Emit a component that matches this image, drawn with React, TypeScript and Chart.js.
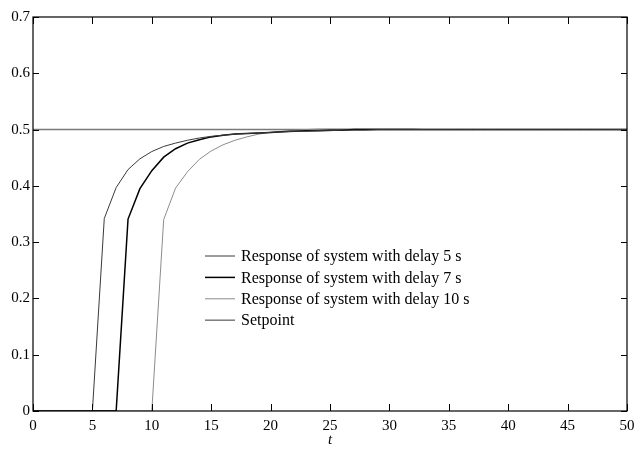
import React, { useEffect, useRef } from "react";
import { Chart, registerables } from "chart.js";

Chart.register(...registerables);

// time axis (s)
const timeSteps = [
  0, 1, 2, 3, 4, 5, 6, 7, 8, 9, 10, 11, 12, 13, 14, 15, 16, 17, 18, 19, 20,
  21, 22, 23, 24, 25, 26, 27, 28, 29, 30, 31, 32, 33, 34, 35, 36, 37, 38, 39, 40,
  41, 42, 43, 44, 45, 46, 47, 48, 49, 50,
];

const responseDelay5 = [
  0, 0, 0, 0, 0, 0, 0.342, 0.397, 0.429, 0.448, 0.461, 0.47, 0.476, 0.481, 0.485,
  0.488, 0.49, 0.492, 0.493, 0.494, 0.495, 0.496, 0.497, 0.497, 0.498, 0.498,
  0.499, 0.499, 0.499, 0.5, 0.5, 0.5, 0.5, 0.5, 0.5, 0.5, 0.5, 0.5, 0.5, 0.5, 0.5,
  0.5, 0.5, 0.5, 0.5, 0.5, 0.5, 0.5, 0.5, 0.5, 0.5,
];

const responseDelay7 = [
  0, 0, 0, 0, 0, 0, 0, 0, 0.341, 0.395, 0.427, 0.451, 0.466, 0.476, 0.482, 0.487,
  0.49, 0.492, 0.493, 0.494, 0.495, 0.496, 0.497, 0.498, 0.498, 0.499, 0.499, 0.5,
  0.5, 0.5, 0.5, 0.5, 0.5, 0.5, 0.5, 0.5, 0.5, 0.5, 0.5, 0.5, 0.5, 0.5, 0.5, 0.5,
  0.5, 0.5, 0.5, 0.5, 0.5, 0.5, 0.5,
];

const responseDelay10 = [
  0, 0, 0, 0, 0, 0, 0, 0, 0, 0, 0, 0.34, 0.396, 0.425, 0.447, 0.462, 0.473, 0.481,
  0.487, 0.492, 0.495, 0.497, 0.499, 0.5, 0.501, 0.501, 0.501, 0.501, 0.501, 0.501,
  0.501, 0.501, 0.501, 0.5, 0.5, 0.5, 0.5, 0.5, 0.5, 0.5, 0.5, 0.5, 0.5, 0.5, 0.5,
  0.5, 0.5, 0.5, 0.5, 0.5, 0.5,
];

const setpointTimes = [0, 50];
const setpointValues = [0.5, 0.5];

const seriesLabels = [
  "Response of system with delay 5 s",
  "Response of system with delay 7 s",
  "Response of system with delay 10 s",
  "Setpoint",
];

const xTickStep = 5;
const yTickStep = 0.1;

const FONT = "'Liberation Serif', 'Times New Roman', serif";

const toPoints = (xs: number[], ys: number[]) => xs.map((x, i) => ({ x, y: ys[i] }));

const framePlugin = {
  id: "frameTicks",
  afterDatasetsDraw(chart: any) {
    const { ctx, chartArea, scales } = chart;
    const { left, right, top, bottom } = chartArea;
    ctx.save();
    ctx.strokeStyle = "#000";
    ctx.lineWidth = 1.2;
    ctx.strokeRect(left, top, right - left, bottom - top);
    ctx.lineWidth = 1;
    const xs = scales.x;
    const ys = scales.y;
    const xl = 7;
    const yl = 6;
    ctx.beginPath();
    xs.ticks.forEach((t: any) => {
      const px = Math.round(xs.getPixelForValue(t.value)) + 0.5;
      ctx.moveTo(px, bottom);
      ctx.lineTo(px, bottom - xl);
      ctx.moveTo(px, top);
      ctx.lineTo(px, top + xl);
    });
    ys.ticks.forEach((t: any) => {
      const py = Math.round(ys.getPixelForValue(t.value)) + 0.5;
      ctx.moveTo(left, py);
      ctx.lineTo(left + yl, py);
      ctx.moveTo(right, py);
      ctx.lineTo(right - yl, py);
    });
    ctx.stroke();
    ctx.restore();
  },
};

const legendPlugin = {
  id: "insideLegend",
  afterDraw(chart: any) {
    const { ctx } = chart;
    const x0 = 205;
    const x1 = 235;
    const tx = 241;
    const y0 = 256;
    const dy = 21.4;
    ctx.save();
    ctx.font = `16px ${FONT}`;
    ctx.textBaseline = "middle";
    ctx.textAlign = "left";
    chart.data.datasets.forEach((ds: any, i: number) => {
      const y = y0 + i * dy;
      ctx.strokeStyle = ds.borderColor;
      ctx.lineWidth = Math.min(ds.borderWidth, 1.5);
      ctx.beginPath();
      ctx.moveTo(x0, y);
      ctx.lineTo(x1, y);
      ctx.stroke();
      ctx.fillStyle = "#000";
      ctx.fillText(ds.label, tx, y + 1);
    });
    ctx.restore();
  },
};

export default function App() {
  const ref = useRef<HTMLCanvasElement>(null);

  useEffect(() => {
    if (!ref.current) return;
    const chart = new Chart(ref.current, {
      type: "line",
      data: {
        datasets: [
          {
            label: seriesLabels[0],
            data: toPoints(timeSteps, responseDelay5),
            borderColor: "#3a3a3a",
            borderWidth: 1,
          },
          {
            label: seriesLabels[1],
            data: toPoints(timeSteps, responseDelay7),
            borderColor: "#000000",
            borderWidth: 1.5,
          },
          {
            label: seriesLabels[2],
            data: toPoints(timeSteps, responseDelay10),
            borderColor: "#8c8c8c",
            borderWidth: 1,
          },
          {
            label: seriesLabels[3],
            data: toPoints(setpointTimes, setpointValues),
            borderColor: "#7a7a7a",
            borderWidth: 1.5,
          },
        ],
      },
      options: {
        animation: false,
        responsive: false,
        maintainAspectRatio: false,
        events: [],
        elements: {
          point: { radius: 0 },
          line: { tension: 0, fill: false },
        },
        layout: { padding: { left: 0, top: 17, right: 14, bottom: 0 } },
        plugins: {
          legend: { display: false },
          tooltip: { enabled: false },
          title: { display: false },
        },
        scales: {
          x: {
            type: "linear",
            min: 0,
            max: 50,
            grid: { display: false, drawTicks: false },
            border: { display: false },
            ticks: {
              stepSize: xTickStep,
              padding: 6,
              color: "#000",
              font: { family: FONT, size: 15 },
              maxRotation: 0,
            },
            title: {
              display: true,
              text: "t",
              color: "#000",
              font: { family: FONT, size: 15, style: "italic" },
              padding: { top: 0, bottom: 0 },
            },
            afterFit: (s: any) => {
              s.height = 38;
            },
          },
          y: {
            type: "linear",
            min: 0,
            max: 0.7,
            grid: { display: false, drawTicks: false },
            border: { display: false },
            ticks: {
              stepSize: yTickStep,
              padding: 3,
              color: "#000",
              font: { family: FONT, size: 15 },
            },
            afterFit: (s: any) => {
              s.width = 33;
            },
          },
        },
      },
      plugins: [framePlugin, legendPlugin],
    });
    return () => chart.destroy();
  }, []);

  return (
    <div
      style={{
        position: "fixed",
        left: 0,
        top: 0,
        width: 641,
        height: 449,
        background: "#fff",
      }}
    >
      <canvas ref={ref} width={641} height={449} style={{ display: "block" }} />
    </div>
  );
}
